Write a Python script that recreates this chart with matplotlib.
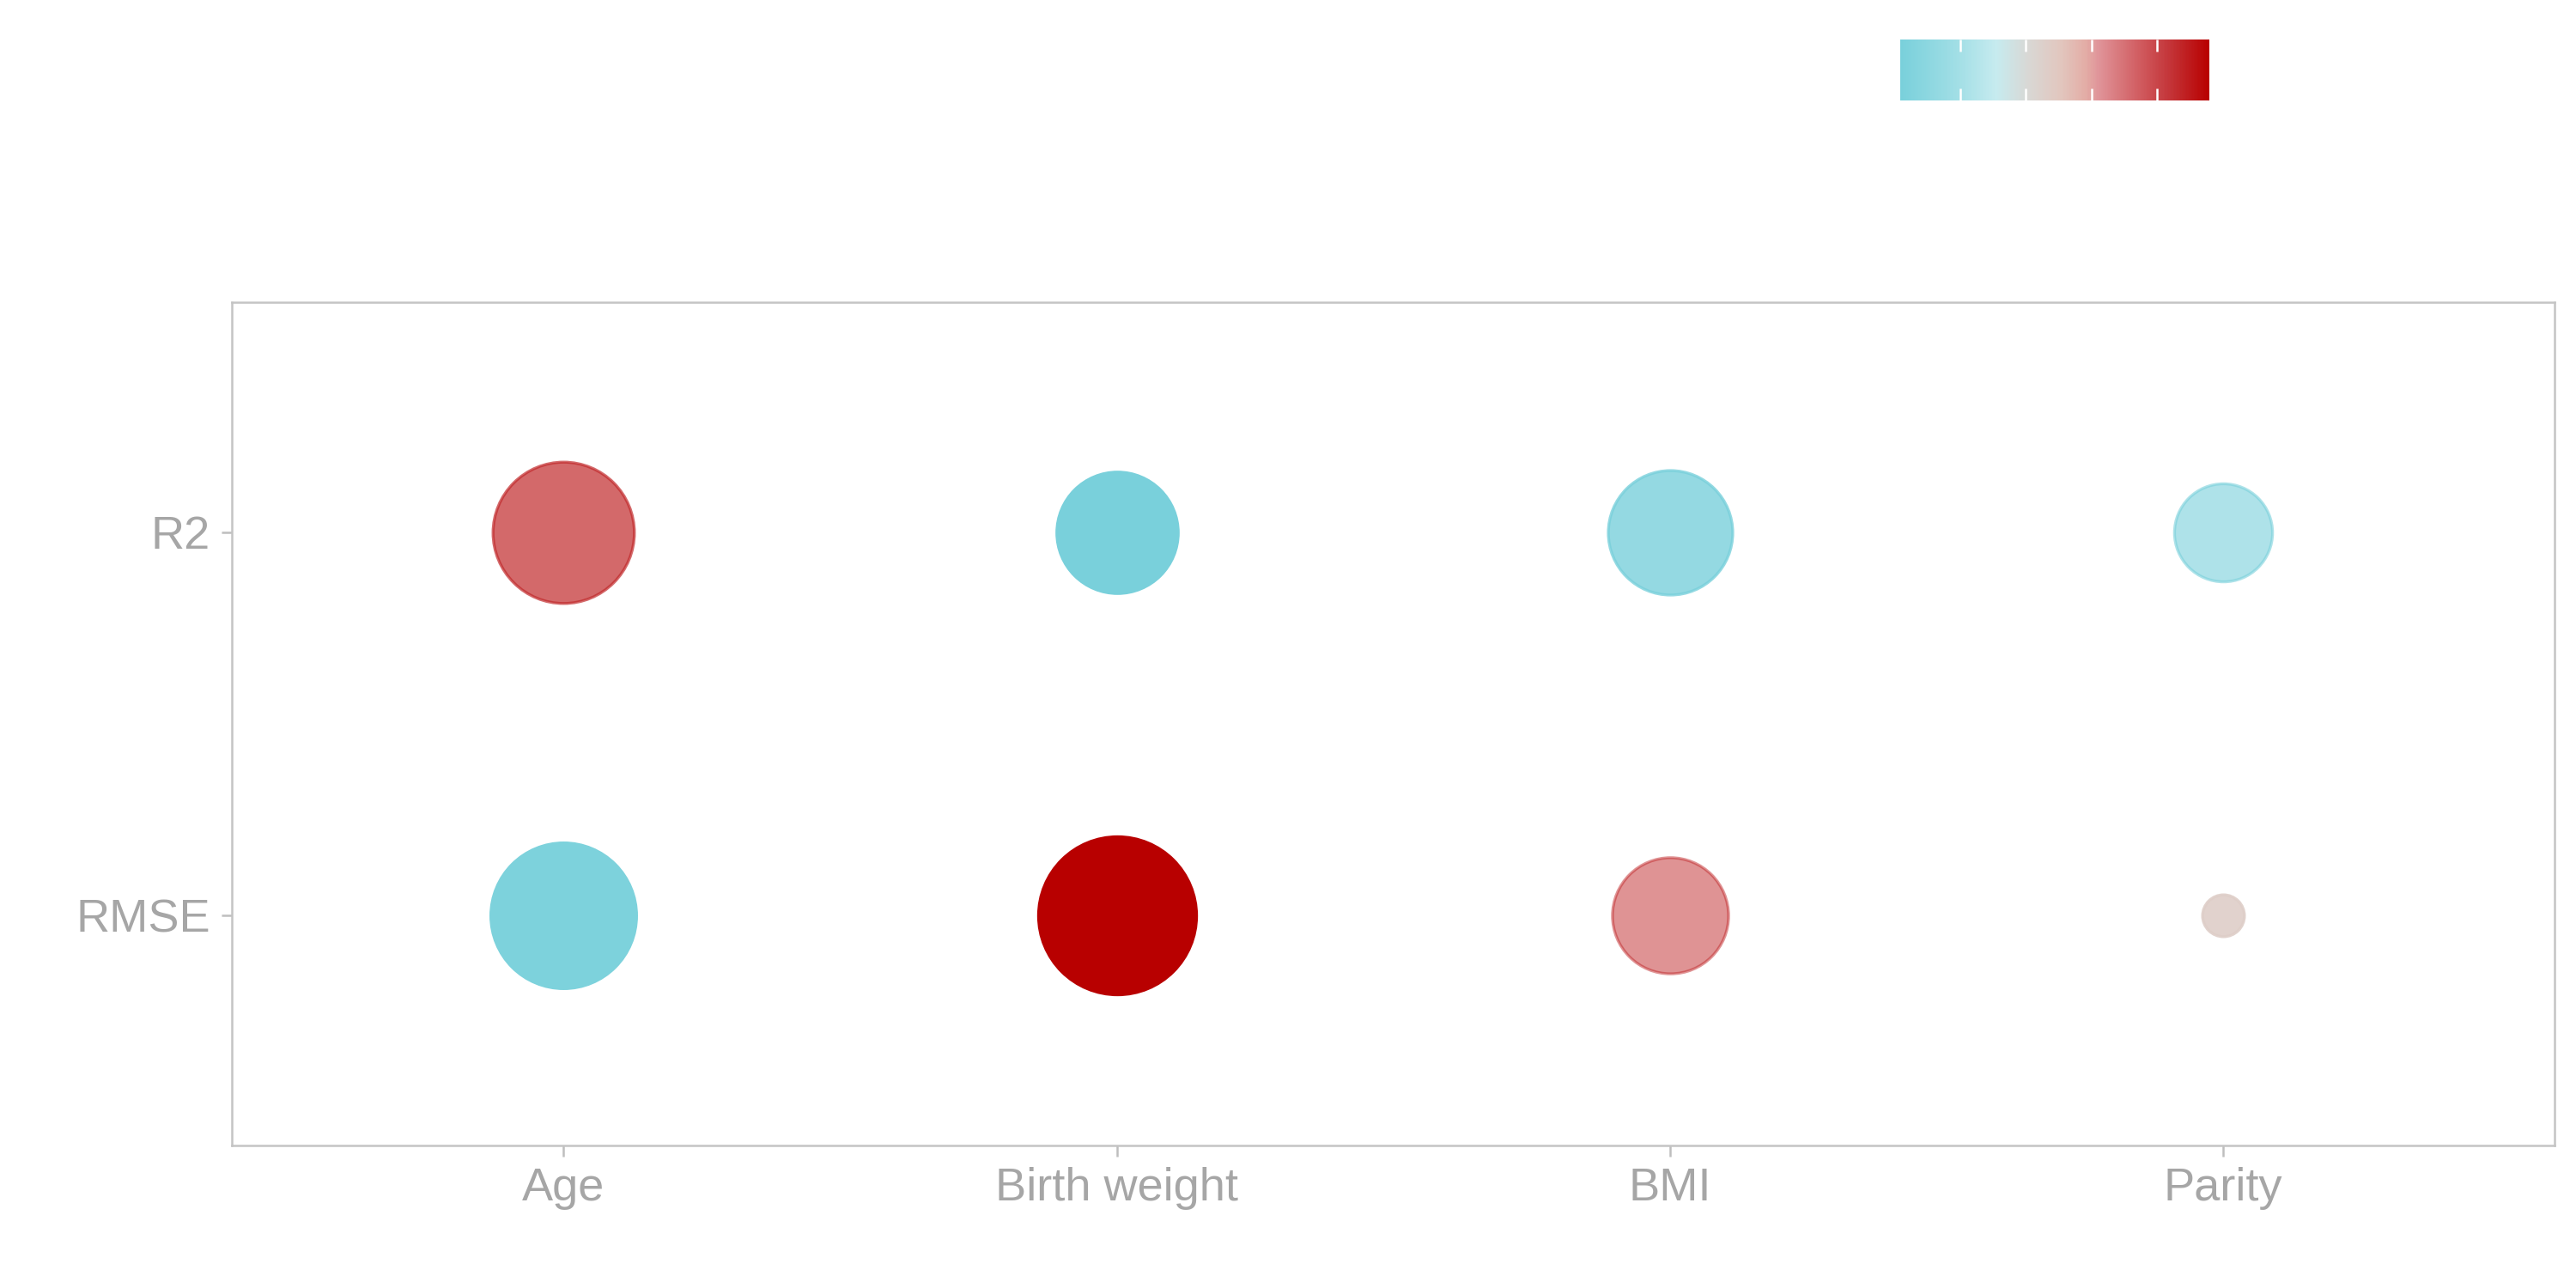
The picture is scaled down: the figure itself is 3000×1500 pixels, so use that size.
import matplotlib
matplotlib.use("Agg")
import matplotlib.pyplot as plt
import numpy as np
from matplotlib.colors import LinearSegmentedColormap, Normalize
from matplotlib.cm import ScalarMappable

plt.rcParams['font.family'] = ['Liberation Sans', 'DejaVu Sans']

# ---- data ----
features = ["Age", "Birth weight", "BMI", "Parity"]
metrics = ["RMSE", "R2"]          # bottom to top
rmse_color = [0.036, 0.959, 0.865, 0.46]
r2_color = [0.865, 0.017, 0.017, 0.017]
rmse_alpha = [1.0, 1.0, 0.5, 0.9]
r2_alpha = [0.7, 1.0, 0.8, 0.6]
rmse_size = [0.85, 1.00, 0.54, 0.07]
r2_size = [0.80, 0.59, 0.62, 0.385]
color_breaks = [0.2, 0.4, 0.6, 0.8]

# gradient of the colour scale
grad_pos = [0.0, 0.19, 0.31, 0.41, 0.52, 0.60, 0.64, 0.78, 0.86, 1.0]
grad_col = ["#79D0DB", "#A3DFE6", "#C6EBEF", "#D8D8D5", "#E2C6BE", "#E3ADA6",
            "#E0959A", "#D05A5E", "#C53A3E", "#B80000"]
cmap = LinearSegmentedColormap.from_list("cb", list(zip(grad_pos, grad_col)))

all_c = np.array(rmse_color + r2_color)
norm = Normalize(vmin=all_c.min(), vmax=all_c.max())

fig = plt.figure(figsize=(10, 5), dpi=300)
ax = fig.add_axes([0.09, 0.1107, 0.9017, 0.6546])

smax = 1950
grey = "#A6A6A6"
for metric, cvals, avals, svals in [("RMSE", rmse_color, rmse_alpha, rmse_size),
                                      ("R2", r2_color, r2_alpha, r2_size)]:
    yi = metrics.index(metric)
    for i, f in enumerate(features):
        col = cmap(norm(cvals[i]))
        ax.scatter(i, yi, s=svals[i] * smax, color=col, alpha=avals[i],
                   edgecolors=col, linewidths=0.8, zorder=3)

ax.set_xlim(-0.6, len(features) - 0.4)
ax.set_ylim(-0.6, len(metrics) - 0.4)
ax.set_xticks(range(len(features)))
ax.set_xticklabels(features)
ax.set_yticks(range(len(metrics)))
ax.set_yticklabels(metrics)
ax.tick_params(axis='both', colors="#BEBEBE", labelcolor=grey, labelsize=13,
               length=3, width=0.6, pad=3)
for sp in ax.spines.values():
    sp.set_color("#C4C4C4")
    sp.set_linewidth(0.6)

# colour bar
cax = fig.add_axes([0.7377, 0.922, 0.12, 0.0473])
sm = ScalarMappable(norm=norm, cmap=cmap)
cb = fig.colorbar(sm, cax=cax, orientation='horizontal', ticks=color_breaks)
cb.outline.set_visible(False)
cb.minorticks_off()
cax.tick_params(axis='x', which='both', direction='in', top=True, bottom=True,
                colors='white', length=3.3, width=0.6,
                labelbottom=False, labeltop=False)

fig.savefig("out.png", dpi=300, facecolor="white")
